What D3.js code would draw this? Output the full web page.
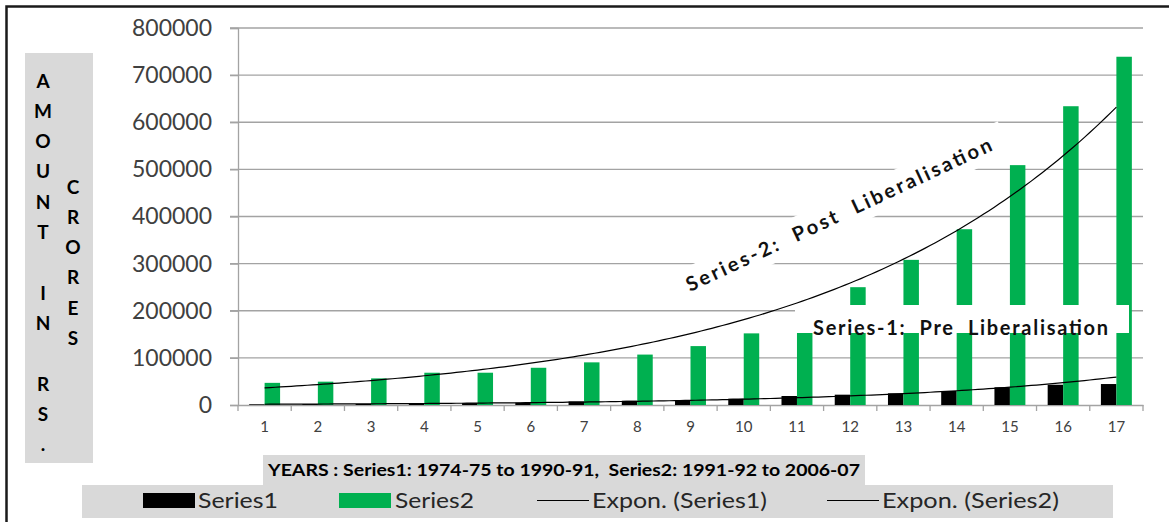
<!DOCTYPE html>
<html>
<head>
<meta charset="utf-8">
<script src="https://cdn.jsdelivr.net/npm/d3@7/dist/d3.min.js"></script>
<style>
  html, body { margin: 0; padding: 0; background: #fff; }
  svg { display: block; }
  .pre { white-space: pre; }
</style>
</head>
<body>
<svg id="chart" width="1169" height="522"></svg>
<script>
// ---------------- data ----------------
const categories = ["1","2","3","4","5","6","7","8","9","10","11","12","13","14","15","16","17"];
const series1 = [1500, 1800, 2200, 3300, 4000, 4800, 7500, 9000, 10600, 13400, 19100, 21900, 24800, 29700, 37600, 43000, 44500];
const series2 = [47000, 49500, 56500, 68500, 68500, 79000, 90500, 107000, 125000, 152000, 190000, 250000, 308000, 373000, 509000, 634000, 739000];
const yTicks = [0, 100000, 200000, 300000, 400000, 500000, 600000, 700000, 800000];
const yTitleCol1 = ["A","M","O","U","N","T","","I","N","","R","S","."];
const yTitleCol2 = ["C","R","O","R","E","S"];
const xTitle = "YEARS : Series1: 1974-75 to 1990-91,  Series2: 1991-92 to 2006-07";
const legendLabels = ["Series1", "Series2", "Expon. (Series1)", "Expon. (Series2)"];
const annotPost = "Series-2:  Post  Liberalisation";
const annotPre = "Series-1:  Pre  Liberalisation";

// ---------------- setup ----------------
const svg = d3.select("#chart");
const FONT = "Lato, 'Open Sans', sans-serif";
const GREEN = "#00b050";
const GRID = "#a3a3a3";

const x = d3.scaleBand().domain(categories).range([238, 1143]).paddingInner(0).paddingOuter(0);
const inner = d3.scaleBand().domain(["s1","s2"]).range([0, x.bandwidth()]).paddingInner(0).paddingOuter(0.72);
const y = d3.scaleLinear().domain([0, 800000]).range([405, 28]);

// outer border (top & left)
svg.append("path").attr("d", "M6.5,522 V6.5 H1169").attr("fill","none").attr("stroke","#1a1a1a").attr("stroke-width",2.5);

// gridlines
svg.append("g").selectAll("line").data(yTicks.filter(d => d > 0)).join("line")
  .attr("x1", 230).attr("x2", 1143)
  .attr("y1", d => y(d)).attr("y2", d => y(d))
  .attr("stroke", GRID).attr("stroke-width", 1.3);

// y axis
const yAxis = d3.axisLeft(y).tickValues(yTicks).tickSize(8).tickPadding(18).tickFormat(d3.format("d"));
const gy = svg.append("g").attr("transform", "translate(238,0)").call(yAxis);
gy.select(".domain").attr("stroke", GRID).attr("stroke-width", 1.3);
gy.selectAll(".tick line").attr("stroke", GRID).attr("stroke-width", 1.3);
gy.selectAll(".tick text").attr("font-family", FONT).attr("font-size", 23).attr("fill", "#404040");

// x axis
const xAxis = d3.axisBottom(x).tickSize(0).tickPadding(16);
const gx = svg.append("g").attr("transform", "translate(0,405)").call(xAxis);
gx.select(".domain").attr("stroke", GRID).attr("stroke-width", 1.3);
gx.selectAll(".tick text").attr("font-family", FONT).attr("font-size", 15).attr("fill", "#404040");
// tick marks at band boundaries
const bounds = categories.map(c => x(c)).concat([x(categories[categories.length-1]) + x.bandwidth()]);
svg.append("g").selectAll("line").data(bounds).join("line")
  .attr("x1", d => d).attr("x2", d => d).attr("y1", 405).attr("y2", 411)
  .attr("stroke", GRID).attr("stroke-width", 1.3);

// Post-liberalisation annotation box (behind bars)
const postG = svg.append("g").attr("transform", "translate(690,292) rotate(-25.1)");
postG.append("rect").attr("x", -16).attr("y", -24).attr("width", 367).attr("height", 34).attr("fill", "#fff");

// bars
const rows = categories.map((c, i) => ({ c, s1: series1[i], s2: series2[i] }));
const grp = svg.append("g").selectAll("g").data(rows).join("g")
  .attr("transform", d => `translate(${x(d.c)},0)`);
grp.append("rect").attr("x", inner("s1")).attr("width", inner.bandwidth())
  .attr("y", d => y(d.s1)).attr("height", d => y(0) - y(d.s1)).attr("fill", "#000");
grp.append("rect").attr("x", inner("s2")).attr("width", inner.bandwidth())
  .attr("y", d => y(d.s2)).attr("height", d => y(0) - y(d.s2)).attr("fill", GREEN);

// exponential trendlines (least squares on ln y, as a spreadsheet trendline)
function expFit(vals) {
  const xs = vals.map((_, i) => i + 1);
  const ls = vals.map(v => Math.log(v));
  const mx = d3.mean(xs), ml = d3.mean(ls);
  let sxy = 0, sxx = 0;
  xs.forEach((xi, i) => { sxy += (xi - mx) * (ls[i] - ml); sxx += (xi - mx) ** 2; });
  const b = sxy / sxx, a = ml - b * mx;
  return t => Math.exp(a + b * t);
}
const centerX = t => x(categories[0]) + x.bandwidth() / 2 + (t - 1) * x.step();
const samples = d3.range(1, 17.0001, 0.1);
const line = d3.line().x(t => centerX(t)).curve(d3.curveLinear);
[series1, series2].forEach(s => {
  const f = expFit(s);
  svg.append("path").datum(samples)
    .attr("d", line.y(t => y(f(t))))
    .attr("fill", "none").attr("stroke", "#000").attr("stroke-width", 1.2);
});

// Post annotation text
postG.append("text").attr("class", "pre").attr("x", 0).attr("y", 0)
  .attr("font-family", FONT).attr("font-weight", "bold").attr("font-size", 20).attr("fill", "#111")
  .attr("textLength", 335).attr("lengthAdjust", "spacing")
  .text(annotPost);

// Pre annotation box & text (on top)
svg.append("rect").attr("x", 795).attr("y", 305).attr("width", 334).attr("height", 28).attr("fill", "#fff");
svg.append("text").attr("class", "pre").attr("x", 813).attr("y", 335)
  .attr("font-family", FONT).attr("font-weight", "bold").attr("font-size", 20).attr("fill", "#111")
  .attr("textLength", 295).attr("lengthAdjust", "spacing")
  .text(annotPre);

// y axis title box
svg.append("rect").attr("x", 25).attr("y", 53).attr("width", 68).attr("height", 410).attr("fill", "#d9d9d9");
svg.append("g").selectAll("text").data(yTitleCol1).join("text")
  .attr("x", 43).attr("y", (d, i) => 80 + i * 30.3)
  .attr("text-anchor", "middle").attr("dominant-baseline", "central")
  .attr("font-family", FONT).attr("font-weight", "bold").attr("font-size", 19).attr("fill", "#000")
  .text(d => d);
svg.append("g").selectAll("text").data(yTitleCol2).join("text")
  .attr("x", 73).attr("y", (d, i) => 186 + i * 30.3)
  .attr("text-anchor", "middle").attr("dominant-baseline", "central")
  .attr("font-family", FONT).attr("font-weight", "bold").attr("font-size", 19).attr("fill", "#000")
  .text(d => d);

// x axis title box
svg.append("rect").attr("x", 263).attr("y", 455).attr("width", 602).attr("height", 31).attr("fill", "#d9d9d9");
svg.append("text").attr("class", "pre").attr("x", 268).attr("y", 476)
  .attr("font-family", FONT).attr("font-weight", "bold").attr("font-size", 17).attr("fill", "#000")
  .attr("textLength", 592).attr("lengthAdjust", "spacingAndGlyphs")
  .text(xTitle);

// legend
svg.append("rect").attr("x", 82).attr("y", 485).attr("width", 1031).attr("height", 33).attr("fill", "#d9d9d9");
const legendItems = [
  { label: legendLabels[0], kind: "rect", color: "#000", kx: 143, tx: 198, tl: 80 },
  { label: legendLabels[1], kind: "rect", color: GREEN, kx: 339, tx: 395, tl: 79 },
  { label: legendLabels[2], kind: "line", color: "#000", kx: 537, tx: 592, tl: 175 },
  { label: legendLabels[3], kind: "line", color: "#000", kx: 827, tx: 882, tl: 177 }
];
const lg = svg.append("g").selectAll("g").data(legendItems).join("g");
lg.filter(d => d.kind === "rect").append("rect")
  .attr("x", d => d.kx).attr("y", 493).attr("width", 52).attr("height", 15).attr("fill", d => d.color);
lg.filter(d => d.kind === "line").append("line")
  .attr("x1", d => d.kx).attr("x2", d => d.kx + 52).attr("y1", 500.5).attr("y2", 500.5)
  .attr("stroke", d => d.color).attr("stroke-width", 1.2);
lg.append("text").attr("x", d => d.tx).attr("y", 508)
  .attr("font-family", FONT).attr("font-size", 22).attr("fill", "#262626")
  .attr("textLength", d => d.tl).attr("lengthAdjust", "spacingAndGlyphs")
  .text(d => d.label);
</script>
</body>
</html>
